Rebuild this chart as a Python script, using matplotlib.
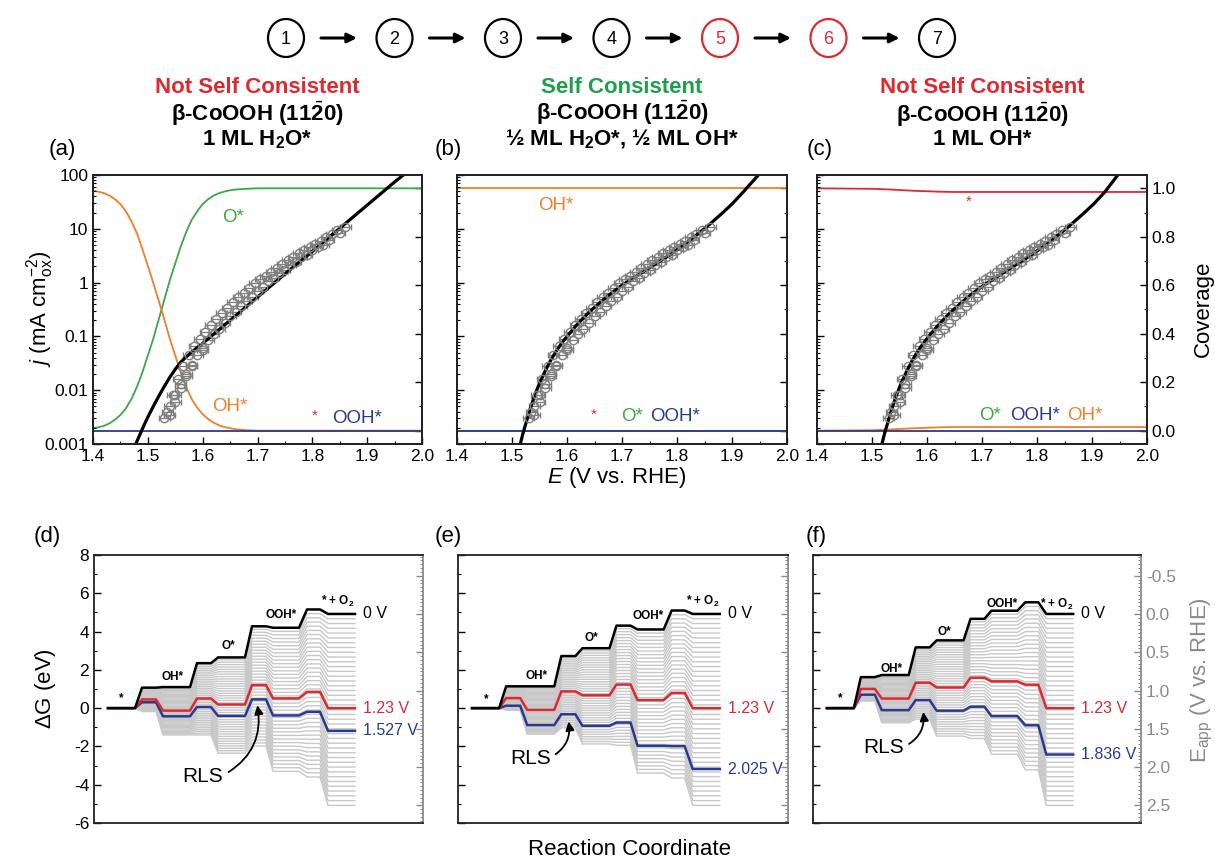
import numpy as np
import matplotlib
matplotlib.use('Agg')
import matplotlib.pyplot as plt
from matplotlib.patches import Ellipse
from matplotlib.ticker import MultipleLocator, LogLocator, NullFormatter

plt.rcParams['font.family'] = ['Liberation Sans', 'DejaVu Sans']
plt.rcParams['mathtext.fontset'] = 'custom'
plt.rcParams['mathtext.rm'] = 'Liberation Sans'
plt.rcParams['mathtext.it'] = 'Liberation Sans:italic'
plt.rcParams['mathtext.bf'] = 'Liberation Sans:bold'
plt.rcParams['axes.unicode_minus'] = False

GREEN = '#3aa845'
ORANGE = '#ef7f2d'
BLUE = '#2b3a8f'
RED = '#dc2a30'
GRAY = '#7f7f7f'
LGRAY = '#c8c8c8'
TGREEN = '#1ca04a'

# ---------------- data: polarisation curves (top row) ----------------
E_exp1 = [1.535, 1.545, 1.555, 1.565, 1.575, 1.585, 1.595, 1.605, 1.615, 1.625,
          1.635, 1.645, 1.655, 1.665, 1.675, 1.685, 1.695, 1.705, 1.715, 1.725,
          1.735, 1.745, 1.755, 1.765, 1.775, 1.785, 1.795, 1.805, 1.815, 1.825,
          1.835, 1.845, 1.86]
j_exp1 = [0.004, 0.008, 0.016, 0.028, 0.045, 0.065, 0.09, 0.12, 0.16, 0.21,
          0.27, 0.34, 0.43, 0.53, 0.65, 0.80, 0.97, 1.15, 1.35, 1.6,
          1.9, 2.2, 2.6, 3.0, 3.5, 4.0, 4.6, 5.3, 6.0, 7.0,
          8.0, 9.3, 11.0]
E_exp2 = [1.53, 1.54, 1.55, 1.56, 1.57, 1.58, 1.59, 1.60, 1.62, 1.64,
          1.66, 1.68, 1.70, 1.72, 1.74, 1.76, 1.78, 1.80, 1.82]
j_exp2 = [0.003, 0.005, 0.008, 0.013, 0.02, 0.03, 0.045, 0.06, 0.11, 0.18,
          0.28, 0.45, 0.7, 1.05, 1.5, 2.1, 3.0, 4.0, 5.0]
E_exp3 = [1.54, 1.55, 1.56, 1.57, 1.58, 1.60, 1.61, 1.63, 1.65, 1.67,
          1.69, 1.71, 1.73, 1.75, 1.77, 1.79, 1.81, 1.83, 1.85]
j_exp3 = [0.0035, 0.006, 0.011, 0.018, 0.028, 0.055, 0.085, 0.14, 0.24, 0.37,
          0.55, 0.82, 1.2, 1.7, 2.4, 3.3, 4.6, 6.2, 8.4]

E_fit_a = [1.478, 1.49, 1.50, 1.51, 1.52, 1.53, 1.54, 1.55, 1.56, 1.57, 1.58,
           1.60, 1.62, 1.65, 1.70, 1.75, 1.80, 1.85, 1.90, 1.95, 1.966]
logj_fit_a = [-3.0, -2.72, -2.50, -2.30, -2.11, -1.93, -1.76, -1.61, -1.48, -1.38, -1.29,
              -1.13, -0.96, -0.70, -0.27, 0.16, 0.58, 1.01, 1.44, 1.87, 2.0]
E_fit_b = [1.515, 1.52, 1.53, 1.54, 1.55, 1.56, 1.57, 1.58, 1.59, 1.60, 1.62, 1.64,
           1.66, 1.68, 1.70, 1.72, 1.74, 1.76, 1.78, 1.80, 1.82, 1.84, 1.86, 1.88,
           1.90, 1.92, 1.948]
logj_fit_b = [-3.0, -2.80, -2.45, -2.13, -1.87, -1.65, -1.45, -1.28, -1.13, -1.0, -0.76, -0.55,
              -0.37, -0.20, -0.05, 0.08, 0.21, 0.34, 0.47, 0.61, 0.76, 0.92, 1.09, 1.27,
              1.46, 1.68, 2.0]
E_fit_c = [1.518, 1.523, 1.533, 1.543, 1.553, 1.563, 1.573, 1.583, 1.593, 1.603, 1.623, 1.643,
           1.663, 1.683, 1.703, 1.723, 1.743, 1.763, 1.783, 1.803, 1.823, 1.843, 1.863, 1.883,
           1.903, 1.923, 1.947]
logj_fit_c = [-3.0, -2.80, -2.45, -2.13, -1.87, -1.65, -1.45, -1.28, -1.13, -1.0, -0.76, -0.55,
              -0.37, -0.20, -0.05, 0.08, 0.21, 0.34, 0.47, 0.61, 0.76, 0.92, 1.09, 1.27,
              1.46, 1.68, 2.0]

# coverages
E_cov_a = [1.40, 1.41, 1.42, 1.43, 1.44, 1.45, 1.46, 1.47, 1.48, 1.49, 1.50, 1.51, 1.52, 1.53,
           1.54, 1.55, 1.56, 1.57, 1.58, 1.59, 1.60, 1.61, 1.62, 1.63, 1.64, 1.65, 1.66, 1.68,
           1.70, 2.00]
O_cov_a = [0.010, 0.014, 0.020, 0.030, 0.045, 0.065, 0.092, 0.13, 0.18, 0.24, 0.31, 0.38, 0.46,
           0.54, 0.62, 0.69, 0.76, 0.82, 0.87, 0.905, 0.935, 0.955, 0.97, 0.98, 0.987, 0.992,
           0.995, 0.998, 1.0, 1.0]
OH_cov_a = [0.99, 0.986, 0.98, 0.97, 0.955, 0.935, 0.905, 0.865, 0.815, 0.75, 0.68, 0.61, 0.535,
            0.46, 0.38, 0.31, 0.24, 0.18, 0.13, 0.095, 0.068, 0.048, 0.033, 0.022, 0.015, 0.010,
            0.006, 0.002, 0.0, 0.0]
E_cov_flat = [1.40, 2.00]
OOH_cov_a = [0.0, 0.0]

OH_cov_b = [1.0, 1.0]
O_cov_b = [0.0, 0.0]
OOH_cov_b = [0.0, 0.0]

E_cov_c = [1.40, 1.45, 1.50, 1.525, 1.55, 1.575, 1.60, 1.625, 1.65, 1.70, 2.00]
S_cov_c = [1.0, 0.999, 0.998, 0.996, 0.993, 0.99, 0.988, 0.986, 0.985, 0.985, 0.985]
OH_cov_c = [0.0, 0.001, 0.002, 0.004, 0.007, 0.01, 0.012, 0.014, 0.015, 0.015, 0.015]
OOH_cov_c = [0.0, 0.0]

# ---------------- data: free energy diagrams (bottom row) ----------------
seg_x0 = [14, 48, 69, 103, 124, 158, 179, 213, 234]
seg_x1 = [41, 62, 96, 117, 151, 172, 205, 226, 261]
n_e = [0, 0.5, 1, 1.5, 2, 2.5, 3, 3.5, 4]  # electrons transferred at each level

# levels at 0 V: *, TS1, OH*, TS2, O*, TS3, OOH*, TS4, * + O2
G0_d = [0.0, 1.07, 1.10, 2.35, 2.65, 4.275, 4.20, 5.155, 4.92]
G0_e = [0.0, 1.14, 1.14, 2.72, 3.13, 4.31, 4.11, 5.10, 4.92]
G0_f = [0.0, 1.62, 1.73, 3.175, 3.54, 4.665, 5.09, 5.53, 4.92]
U_lim = [1.527, 2.025, 1.836]
U_eq = 1.23
U_gray = np.linspace(0.0, 2.5, 41)

W, H = 1215, 863
fig = plt.figure(figsize=(W / 100, H / 100), dpi=100)


def rect(l, t, r, b):
    return [l / W, 1 - b / H, (r - l) / W, (b - t) / H]


top_boxes = [(93, 175, 422, 444), (457, 175, 787, 444), (817, 175, 1147, 444)]
bot_boxes = [(94, 555, 423, 823), (458, 555, 788, 823), (813, 555, 1141, 823)]

fits = [(E_fit_a, logj_fit_a), (E_fit_b, logj_fit_b), (E_fit_c, logj_fit_c)]
cov_lines = [
    [(E_cov_a, O_cov_a, GREEN), (E_cov_a, OH_cov_a, ORANGE), (E_cov_flat, OOH_cov_a, BLUE)],
    [(E_cov_flat, O_cov_b, GREEN), (E_cov_flat, OH_cov_b, ORANGE), (E_cov_flat, OOH_cov_b, BLUE)],
    [(E_cov_c, S_cov_c, RED), (E_cov_c, OH_cov_c, ORANGE), (E_cov_flat, OOH_cov_c, BLUE)],
]
cov_labels = [
    [('O*', 1.656, 0.88, GREEN), ('OH*', 1.65, 0.10, ORANGE), ('*', 1.805, 0.06, RED), ('OOH*', 1.881, 0.05, BLUE)],
    [('OH*', 1.579, 0.93, ORANGE), ('*', 1.648, 0.066, RED), ('O*', 1.718, 0.06, GREEN), ('OOH*', 1.797, 0.06, BLUE)],
    [('*', 1.676, 0.944, RED), ('O*', 1.715, 0.062, GREEN), ('OOH*', 1.796, 0.062, BLUE), ('OH*', 1.887, 0.062, ORANGE)],
]

for k, box in enumerate(top_boxes):
    ax = fig.add_axes(rect(*box))
    cov = ax.twinx()
    ax.set_zorder(cov.get_zorder() + 1)
    ax.patch.set_visible(False)

    for Ex, jx in [(E_exp2, j_exp2), (E_exp3, j_exp3), (E_exp1, j_exp1)]:
        ax.errorbar(Ex, jx, xerr=0.01, fmt='o', mfc='none', mec=GRAY, ecolor=GRAY,
                    ms=6, mew=1.0, elinewidth=0.9, capsize=2.5, capthick=0.9)
    ax.plot(fits[k][0], 10.0 ** np.array(fits[k][1]), color='k', lw=2.3)

    ax.set_yscale('log')
    ax.set_xlim(1.4, 2.0)
    ax.set_ylim(1e-3, 1e2)
    ax.set_yticks([1e-3, 1e-2, 1e-1, 1, 10, 100])
    ax.yaxis.set_minor_locator(LogLocator(base=10, subs=np.arange(2, 10)))
    ax.yaxis.set_minor_formatter(NullFormatter())
    if k == 0:
        ax.set_yticklabels(['0.001', '0.01', '0.1', '1', '10', '100'])
    else:
        ax.set_yticklabels([])
    ax.set_xticks([1.4, 1.5, 1.6, 1.7, 1.8, 1.9, 2.0])
    ax.set_xticklabels(['1.4', '1.5', '1.6', '1.7', '1.8', '1.9', '2.0'])
    ax.xaxis.set_minor_locator(MultipleLocator(0.05))
    ax.tick_params(which='both', direction='in', labelsize=12.5, right=False)
    ax.tick_params(which='major', length=5, width=1)
    ax.tick_params(which='minor', length=2.5, width=0.8)

    for Ec, th, col in cov_lines[k]:
        cov.plot(Ec, th, color=col, lw=1.3)
    cov.set_ylim(-0.055, 1.055)
    cov.set_yticks([0.0, 0.2, 0.4, 0.6, 0.8, 1.0])
    cov.yaxis.set_minor_locator(MultipleLocator(0.1))
    if k == 2:
        cov.set_yticklabels(['0.0', '0.2', '0.4', '0.6', '0.8', '1.0'])
    else:
        cov.set_yticklabels([])
    cov.tick_params(which='both', direction='in', labelsize=12.5)
    cov.tick_params(which='major', length=5, width=1)
    cov.tick_params(which='minor', length=2.5, width=0.8)
    for lab, xl, yl, col in cov_labels[k]:
        cov.text(xl, yl, lab, color=col, fontsize=13.5 if lab != '*' else 11,
                 ha='center', va='center')
    for sp in list(ax.spines.values()) + list(cov.spines.values()):
        sp.set_linewidth(1.3)
        sp.set_color('#222222')


def profile(G0, U):
    xs, ys = [], []
    for x0, x1, g, n in zip(seg_x0, seg_x1, G0, n_e):
        lev = g - n * U
        xs += [x0, x1]
        ys += [lev, lev]
    return xs, ys


G0_all = [G0_d, G0_e, G0_f]
state_labels = ['*', 'OH*', 'O*', 'OOH*', r'* + O$_\mathbf{2}$']
state_pos = [
    [(27.4, 0.52), (79, 1.64), (134, 3.25), (187, 4.89), (244, 5.58)],
    [(27.7, 0.48), (78.3, 1.69), (133.3, 3.68), (190, 4.8), (243.6, 5.58)],
    [(27.3, 0.52), (79, 2.07), (132, 3.97), (190, 5.44), (244, 5.44)],
]
rls_text = [(109, -3.55), (72, -2.62), (70.7, -2.07)]
rls_head = [(163.4, 0.15), (110.3, -0.7), (110.7, -0.2)]

E_of_G = lambda g: (4.92 - g) / 4.0
G_of_E = lambda e: 4.92 - 4.0 * e

for k, box in enumerate(bot_boxes):
    ax = fig.add_axes(rect(*box))
    G0 = G0_all[k]
    for U in U_gray:
        xs, ys = profile(G0, U)
        ax.plot(xs, ys, color=LGRAY, lw=1.0, zorder=1)
    for U, col in [(U_lim[k], BLUE), (U_eq, RED), (0.0, 'k')]:
        xs, ys = profile(G0, U)
        ax.plot(xs, ys, color=col, lw=1.8, zorder=3)

    ax.text(269, G0[-1], '0 V', fontsize=11.5, va='center', ha='left')
    ax.text(269, G0[-1] - 4 * U_eq, '1.23 V', fontsize=11.5, va='center', ha='left', color=RED)
    ax.text(269, G0[-1] - 4 * U_lim[k], '%.3f V' % U_lim[k], fontsize=11.5, va='center',
            ha='left', color=BLUE)
    for lab, (xl, yl) in zip(state_labels, state_pos[k]):
        ax.text(xl, yl, lab, fontsize=8.5, fontweight='bold', ha='center', va='center')
    ax.annotate('RLS', xy=rls_head[k], xytext=rls_text[k], fontsize=15, ha='center', va='center',
                arrowprops=dict(arrowstyle='-|>', color='k', lw=1.3, mutation_scale=13,
                                connectionstyle='arc3,rad=0.35', relpos=(1.0, 0.55),
                                shrinkA=2, shrinkB=0), zorder=5)

    ax.set_xlim(0, 329)
    ax.set_ylim(-6, 8)
    ax.set_xticks([])
    ax.set_yticks([-6, -4, -2, 0, 2, 4, 6, 8])
    ax.yaxis.set_minor_locator(MultipleLocator(1))
    if k == 0:
        ax.set_yticklabels(['-6', '-4', '-2', '0', '2', '4', '6', '8'])
    else:
        ax.set_yticklabels([])
    ax.tick_params(which='both', direction='in', labelsize=12.5, right=False)
    ax.tick_params(which='major', length=5, width=1)
    ax.tick_params(which='minor', length=2.5, width=0.8)
    for sp in ax.spines.values():
        sp.set_linewidth(1.3)
        sp.set_color('#222222')
    ax.spines['right'].set_visible(False)

    sec = ax.secondary_yaxis('right', functions=(E_of_G, G_of_E))
    sec.set_yticks([-0.5, 0.0, 0.5, 1.0, 1.5, 2.0, 2.5])
    sec.yaxis.set_minor_locator(MultipleLocator(0.05))
    if k == 2:
        sec.set_yticklabels(['-0.5', '0.0', '0.5', '1.0', '1.5', '2.0', '2.5'])
    else:
        sec.set_yticklabels([])
    sec.tick_params(which='both', direction='in', colors='#8a8a8a', labelsize=12.5)
    sec.tick_params(which='major', length=5, width=1)
    sec.tick_params(which='minor', length=2.5, width=0.7)
    sec.spines['right'].set_color('#8a8a8a')
    sec.spines['right'].set_linewidth(1.3)

# ---------------- overlay for free text and the step header ----------------
ov = fig.add_axes([0, 0, 1, 1])
ov.set_xlim(0, W)
ov.set_ylim(H, 0)
ov.axis('off')
ov.patch.set_visible(False)

steps = ['1', '2', '3', '4', '5', '6', '7']
step_cols = ['k', 'k', 'k', 'k', RED, RED, 'k']
for i, (s, c) in enumerate(zip(steps, step_cols)):
    cx = 286 + 108.5 * i
    ov.add_patch(Ellipse((cx, 38), 36, 38, fill=False, ec=c, lw=1.6))
    ov.text(cx, 39, s, color=c, fontsize=13, ha='center', va='center')
    if i < len(steps) - 1:
        ov.annotate('', xy=(cx + 71, 38), xytext=(cx + 35, 38),
                    arrowprops=dict(arrowstyle='-|>', color='k', lw=2.2, mutation_scale=14,
                                    shrinkA=0, shrinkB=0))

status = ['Not Self Consistent', 'Self Consistent', 'Not Self Consistent']
status_cols = [RED, TGREEN, RED]
surface = r'β-CoOOH (11$\bar{\mathbf{2}}$0)'
coverage_txt = [r'1 ML H$_\mathbf{2}$O*', r'½ ML H$_\mathbf{2}$O*, ½ ML OH*', '1 ML OH*']
for k, box in enumerate(top_boxes):
    cx = (box[0] + box[2]) / 2
    ov.text(cx, 93, status[k], color=status_cols[k], fontsize=16, fontweight='bold',
            ha='center', va='baseline')
    ov.text(cx, 145, surface + '\n' + coverage_txt[k], fontsize=16, fontweight='bold',
            ha='center', va='baseline', linespacing=1.0, multialignment='center')

for lab, x, y in [('(a)', 62, 150), ('(b)', 448, 150), ('(c)', 820, 150),
                  ('(d)', 47, 536), ('(e)', 448, 536), ('(f)', 816, 536)]:
    ov.text(x, y, lab, fontsize=16, ha='center', va='center')

ov.text(40, 309, r'$j$ (mA cm$^{-2}_{\mathrm{ox}}$)', fontsize=16, rotation=90,
        ha='center', va='center')
ov.text(1203, 309, 'Coverage', fontsize=16, rotation=90, ha='center', va='center')
ov.text(617, 477, r'$E$ (V vs. RHE)', fontsize=16, ha='center', va='center')
ov.text(45, 689, r'$\Delta$G (eV)', fontsize=16, rotation=90, ha='center', va='center')
ov.text(1202, 680, r'E$_{\mathrm{app}}$ (V vs. RHE)', fontsize=16, rotation=90,
        ha='center', va='center', color='#8a8a8a')
ov.text(629, 849, 'Reaction Coordinate', fontsize=16, ha='center', va='center')

fig.savefig('out.png', dpi=100)
